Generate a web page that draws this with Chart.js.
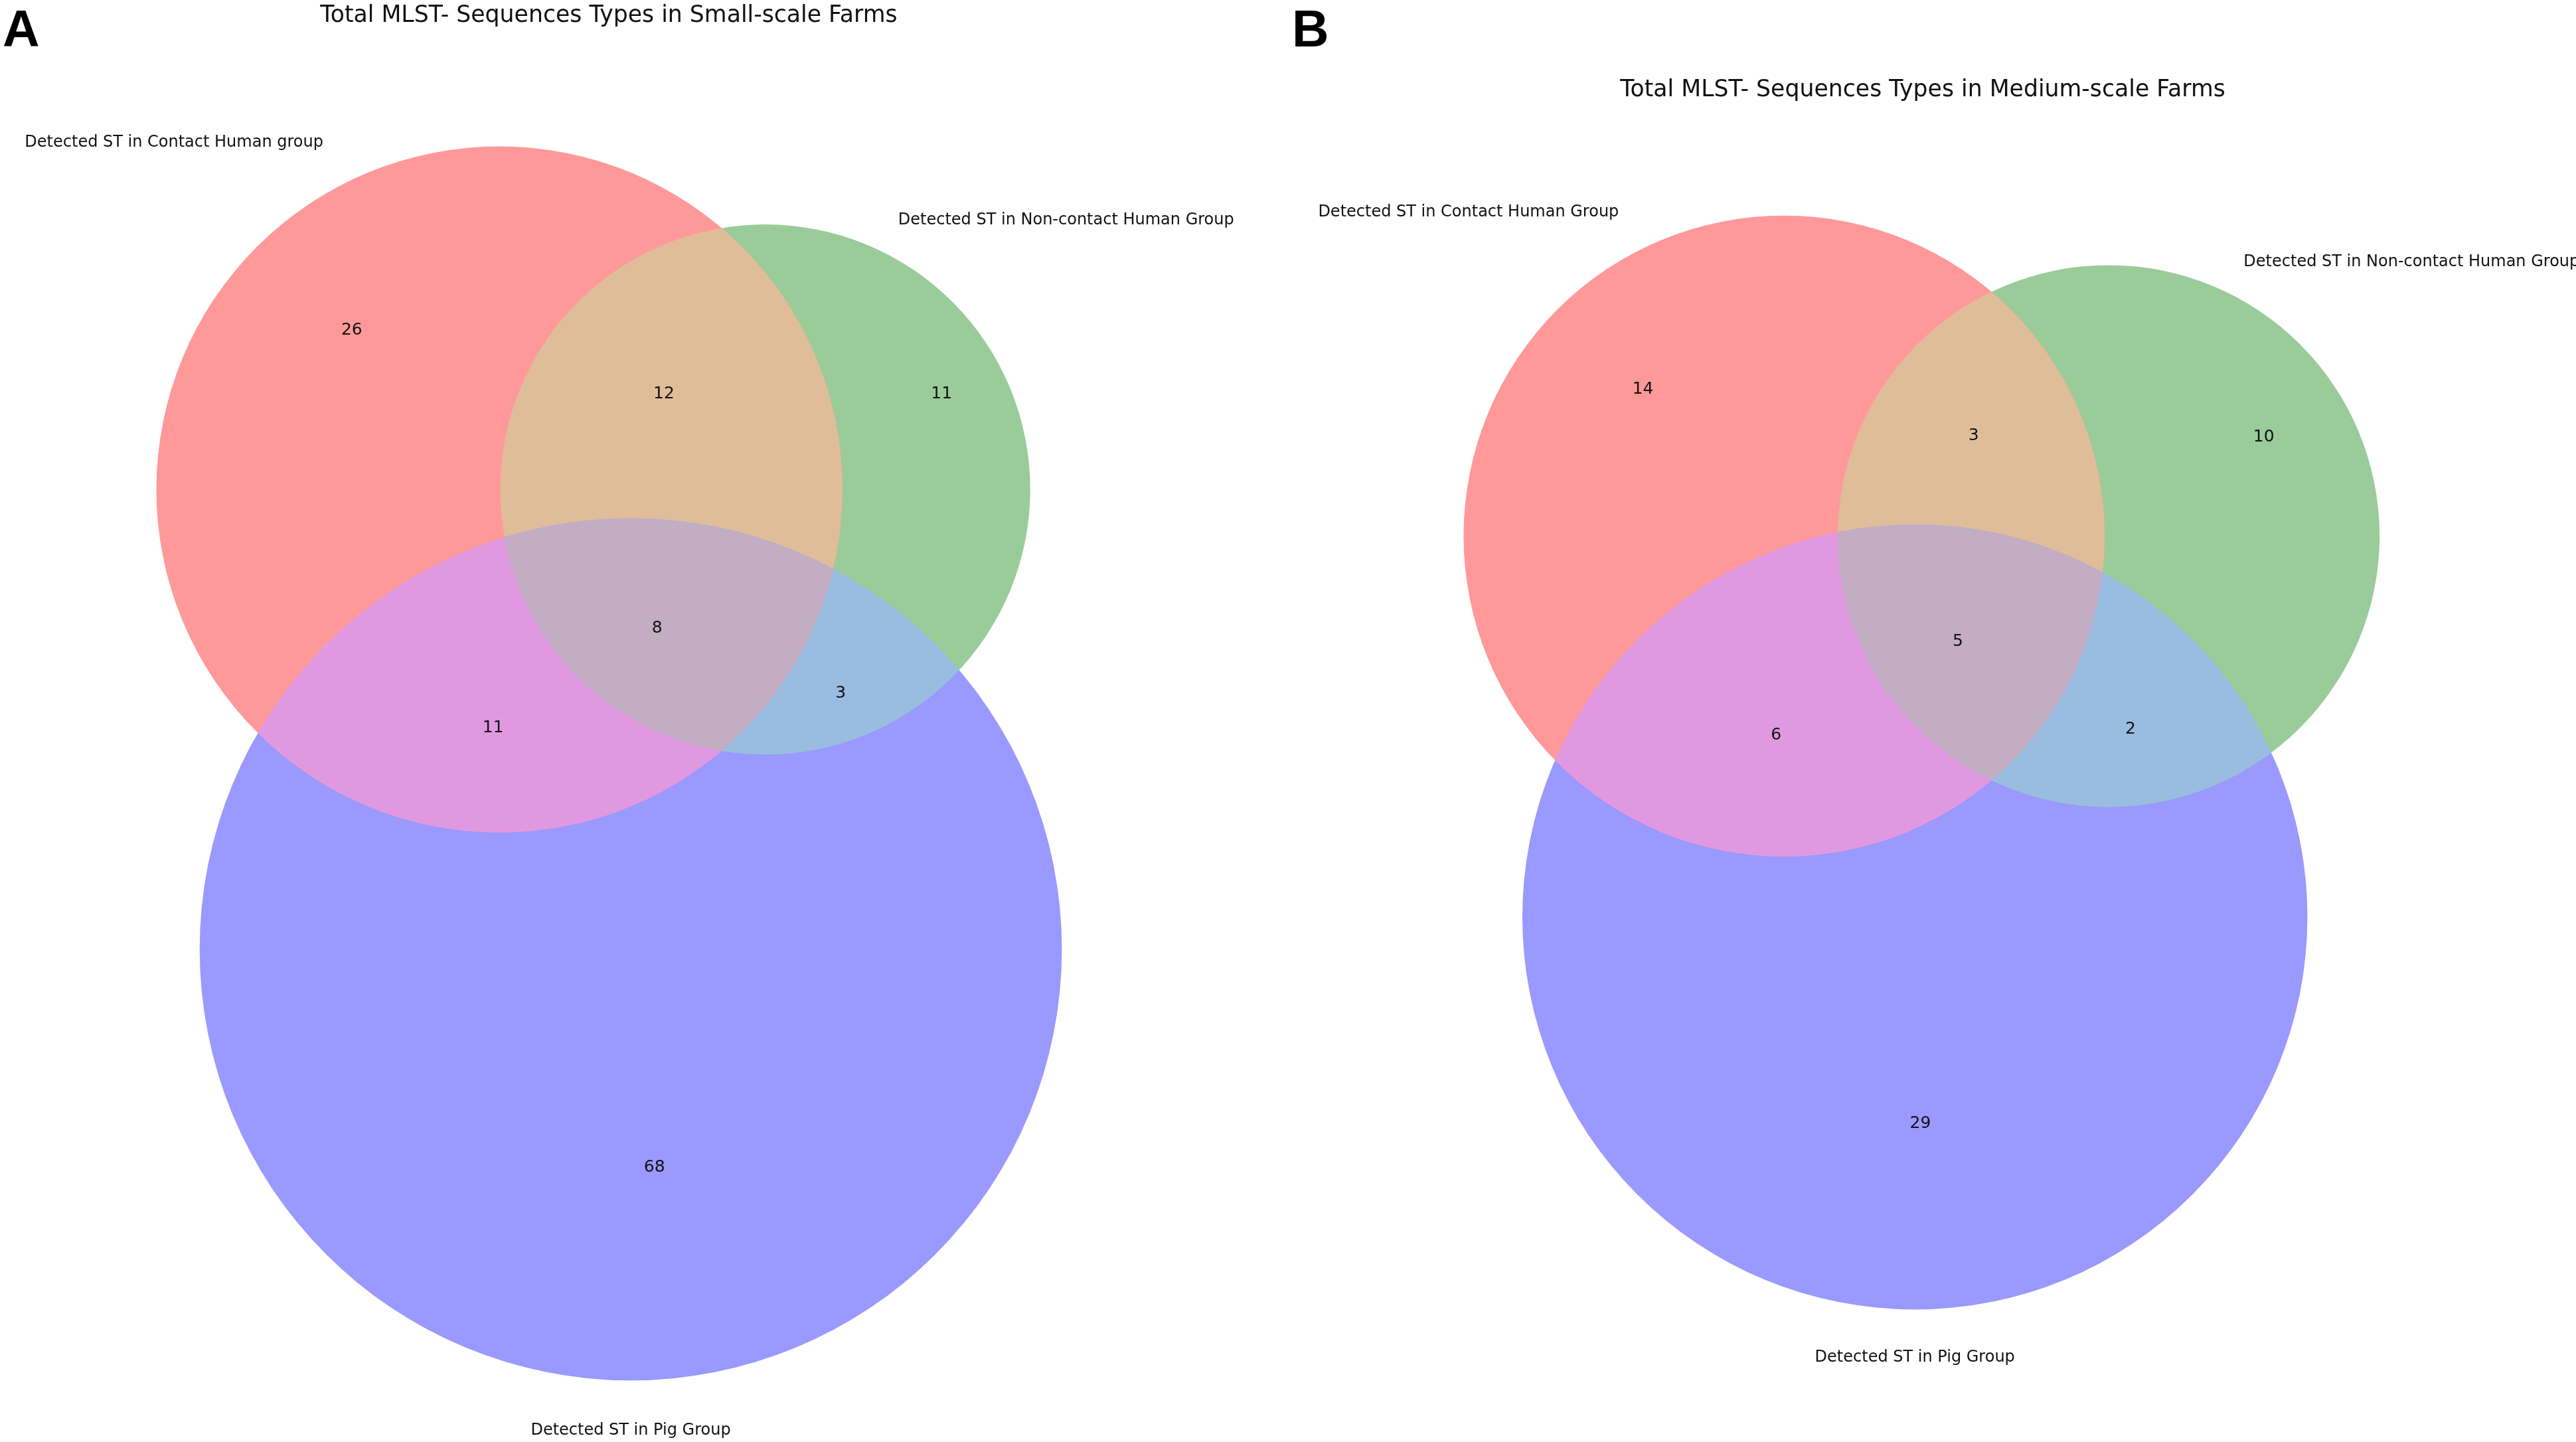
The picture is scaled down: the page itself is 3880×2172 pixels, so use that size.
<!DOCTYPE html>
<html>
<head>
<meta charset="utf-8">
<title>Total MLST- Sequences Types</title>
<script src="https://cdn.jsdelivr.net/npm/chart.js@4.4.0/dist/chart.umd.min.js"></script>
<style>
  html, body { margin: 0; padding: 0; background: #fff; }
  #page { position: relative; width: 3880px; height: 2172px; overflow: hidden; }
  canvas { position: absolute; top: 0; }
  #vennSmall { left: 0; }
  #vennMedium { left: 1940px; }
  .title {
    position: absolute;
    font-family: "DejaVu Sans", sans-serif;
    font-size: 34.7px;
    line-height: 1;
    color: #111;
    white-space: nowrap;
    transform: translate(-50%, -50%);
  }
  .panel {
    position: absolute;
    font-family: "Liberation Sans", Arial, sans-serif;
    font-weight: bold;
    font-size: 77px;
    line-height: 1;
    color: #000;
  }
</style>
</head>
<body>
<div id="page">
  <canvas id="vennSmall" width="1940" height="2172"></canvas>
  <canvas id="vennMedium" width="1940" height="2172"></canvas>
  <div class="panel" style="left:4px; top:5px;">A</div>
  <div class="panel" style="left:1946px; top:5px;">B</div>
  <div class="title" style="left:917px; top:21px;">Total MLST- Sequences Types in Small-scale Farms</div>
  <div class="title" style="left:2896px; top:133px;">Total MLST- Sequences Types in Medium-scale Farms</div>
</div>

<script>
// regions in matplotlib-venn order: 100, 010, 110, 001, 101, 011, 111
var regionKeys = ['100', '010', '110', '001', '101', '011', '111'];

// Small-scale farms
var smallSetLabels = ['Detected ST in Contact Human group', 'Detected ST in Non-contact Human Group', 'Detected ST in Pig Group'];
var smallCounts = [26, 11, 12, 68, 11, 3, 8];

// Medium-scale farms
var mediumSetLabels = ['Detected ST in Contact Human Group', 'Detected ST in Non-contact Human Group', 'Detected ST in Pig Group'];
var mediumCounts = [14, 10, 3, 29, 6, 2, 5];

// layout only: units where a circle's radius is sqrt(set size)
var smallView = { w: 28.343, h: 31.731 };
var smallCentres = [[10.99, 10.77], [16.84, 10.77], [13.88, 20.89]];
var smallCountPos = [[7.74, 7.23], [20.72, 8.62], [14.61, 8.62], [14.40, 25.65], [10.85, 15.98], [18.50, 15.21], [14.46, 13.78]];
var smallLabelPos = [[3.83, 3.10], [23.46, 4.81], [13.88, 31.44]];

var mediumView = { w: 21.265, h: 23.808 };
var mediumCentres = [[8.19, 8.85], [13.55, 8.85], [10.35, 15.14]];
var mediumCountPos = [[5.86, 6.40], [16.11, 7.18], [11.32, 7.16], [10.44, 18.52], [8.06, 12.11], [13.91, 12.01], [11.06, 10.56]];
var mediumLabelPos = [[2.98, 3.47], [18.55, 4.29], [10.35, 22.38]];

// colours: matplotlib-venn r/g/b at alpha 0.4, overlaps use its mixed colours
var setColours = ['#ff9999', '#99cc99', '#9999ff'];
var mixColours = { '110': '#e0bd99', '101': '#e099e0', '011': '#99bde0', '111': '#c2adc2' };

// canvas 'middle' sits a little high compared with matplotlib's centring
var textNudge = 3;

function setSizes(counts) {
    return [0, 1, 2].map(function (s) {
        return counts.reduce(function (sum, n, i) {
            return regionKeys[i][s] === '1' ? sum + n : sum;
        }, 0);
    });
}

// radius given in data units, turned into pixels by the x scale
function unitRadius(ctx) {
    if (!ctx.raw) return 0;
    var xs = ctx.chart.scales.x;
    return xs.getPixelForValue(ctx.raw.r) - xs.getPixelForValue(0);
}

var vennPlugin = {
    id: 'venn',
    afterDatasetsDraw: function (chart, args, opts) {
        var ctx = chart.ctx;
        var circles = [0, 1, 2].map(function (i) { return chart.getDatasetMeta(i).data[0]; });
        var path = function (c) {
            ctx.beginPath();
            ctx.arc(c.x, c.y, c.options.radius, 0, Math.PI * 2);
        };

        // overlaps: clip to all but the last member, fill the last one
        regionKeys.forEach(function (key) {
            var members = [0, 1, 2].filter(function (s) { return key[s] === '1'; });
            if (members.length < 2) return;
            ctx.save();
            members.slice(0, -1).forEach(function (s) { path(circles[s]); ctx.clip(); });
            path(circles[members[members.length - 1]]);
            ctx.fillStyle = mixColours[key];
            ctx.fill();
            ctx.restore();
        });

        var xs = chart.scales.x, ys = chart.scales.y;
        ctx.save();
        ctx.textAlign = 'center';
        ctx.textBaseline = 'middle';
        ctx.fillStyle = '#111';

        ctx.font = '25px "DejaVu Sans"';
        opts.counts.forEach(function (n, i) {
            ctx.fillText(String(n), xs.getPixelForValue(opts.countPos[i][0]), ys.getPixelForValue(opts.countPos[i][1]) + textNudge);
        });

        ctx.font = '24px "DejaVu Sans"';
        opts.labels.forEach(function (txt, i) {
            ctx.fillText(txt, xs.getPixelForValue(opts.labelPos[i][0]), ys.getPixelForValue(opts.labelPos[i][1]) + textNudge);
        });
        ctx.restore();
    }
};

function vennChart(id, counts, labels, view, centres, countPos, labelPos) {
    var sizes = setSizes(counts);
    var datasets = sizes.map(function (size, s) {
        return {
            label: labels[s],
            data: [{ x: centres[s][0], y: centres[s][1], r: Math.sqrt(size) }],
            backgroundColor: setColours[s],
            borderWidth: 0,
            pointRadius: unitRadius,
            pointHoverRadius: unitRadius
        };
    });

    var ctx = document.getElementById(id).getContext('2d');
    return new Chart(ctx, {
        type: 'scatter',
        data: { datasets: datasets },
        options: {
            responsive: false,
            animation: false,
            events: [],
            layout: { padding: 0 },
            scales: {
                x: { type: 'linear', min: 0, max: view.w, display: false },
                y: { type: 'linear', min: 0, max: view.h, reverse: true, display: false }
            },
            plugins: {
                legend: { display: false },
                tooltip: { enabled: false },
                venn: { counts: counts, countPos: countPos, labels: labels, labelPos: labelPos }
            }
        },
        plugins: [vennPlugin]
    });
}

vennChart('vennSmall', smallCounts, smallSetLabels, smallView, smallCentres, smallCountPos, smallLabelPos);
vennChart('vennMedium', mediumCounts, mediumSetLabels, mediumView, mediumCentres, mediumCountPos, mediumLabelPos);
</script>
</body>
</html>
